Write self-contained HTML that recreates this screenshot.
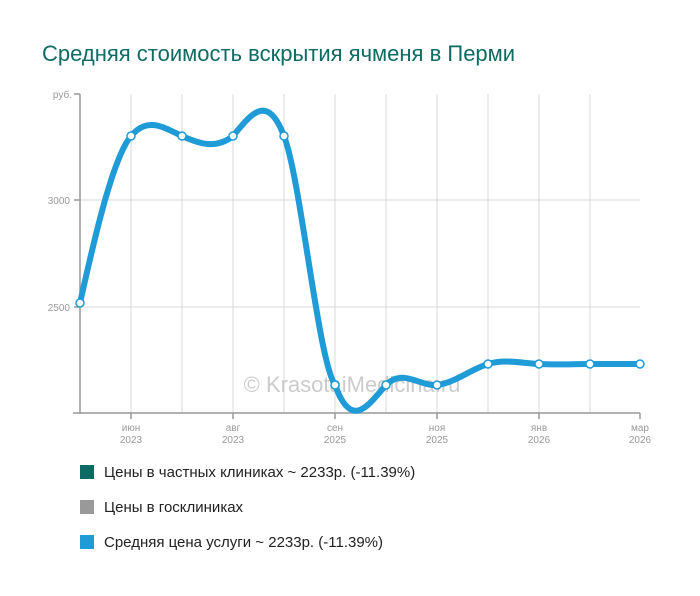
<!DOCTYPE html>
<html><head><meta charset="utf-8"><style>
body{margin:0;background:#fff;width:700px;height:591px;overflow:hidden;font-family:"Liberation Sans",sans-serif}
</style></head><body>
<svg width="700" height="591" xmlns="http://www.w3.org/2000/svg" font-family="Liberation Sans, sans-serif">
<text x="42" y="61" font-size="22" fill="#0e6b63">Средняя стоимость вскрытия ячменя в Перми</text>
<g stroke="#d8d8d8" stroke-width="1">
<line x1="131" y1="94" x2="131" y2="413"/><line x1="182" y1="94" x2="182" y2="413"/><line x1="233" y1="94" x2="233" y2="413"/><line x1="284" y1="94" x2="284" y2="413"/><line x1="335" y1="94" x2="335" y2="413"/><line x1="386" y1="94" x2="386" y2="413"/><line x1="437" y1="94" x2="437" y2="413"/><line x1="488" y1="94" x2="488" y2="413"/><line x1="539" y1="94" x2="539" y2="413"/><line x1="590" y1="94" x2="590" y2="413"/>
<line x1="80" y1="200" x2="640" y2="200"/><line x1="80" y1="307" x2="640" y2="307"/>
</g>
<g stroke="#999" stroke-width="1.5">
<line x1="80" y1="94" x2="80" y2="414"/><line x1="73" y1="413" x2="640" y2="413"/>
<line x1="74" y1="94" x2="80" y2="94"/><line x1="74" y1="200" x2="80" y2="200"/><line x1="74" y1="307" x2="80" y2="307"/>
<line x1="131" y1="413" x2="131" y2="419"/><line x1="233" y1="413" x2="233" y2="419"/><line x1="335" y1="413" x2="335" y2="419"/><line x1="437" y1="413" x2="437" y2="419"/><line x1="539" y1="413" x2="539" y2="419"/><line x1="640" y1="413" x2="640" y2="419"/>
</g>
<g font-size="10" fill="#999" text-anchor="end">
<text x="72" y="98">руб.</text><text x="70" y="204">3000</text><text x="70" y="311">2500</text>
</g>
<g font-size="10" fill="#999" text-anchor="middle">
<text x="131" y="431">июн</text><text x="131" y="443">2023</text>
<text x="233" y="431">авг</text><text x="233" y="443">2023</text>
<text x="335" y="431">сен</text><text x="335" y="443">2025</text>
<text x="437" y="431">ноя</text><text x="437" y="443">2025</text>
<text x="539" y="431">янв</text><text x="539" y="443">2026</text>
<text x="640" y="431">мар</text><text x="640" y="443">2026</text>
</g>
<text x="352" y="392" font-size="22" fill="#ccc" text-anchor="middle">© KrasotaiMedicina.ru</text>
<path fill="none" stroke="#1f9bd7" stroke-width="6" stroke-linejoin="round" d="M80,303 C97,226.5 114,156.4 131,136 C148,115.6 165,128.4 182,136 C199,143.7 216,149.6 233,136 C250,115.6 267,91 284,136 C301,180 318,359.5 335,385 C352,432 369,404 386,385 C403,368 420,386.7 437,385 C454,383.3 471,369.1 488,364 C505,358.9 522,363.2 539,364 C556,364.9 573,364 590,364 C607,364 623,364 640,364"/>
<g fill="#fff" stroke="#1f9bd7" stroke-width="1.5">
<circle cx="80" cy="303" r="4"/><circle cx="131" cy="136" r="4"/><circle cx="182" cy="136" r="4"/><circle cx="233" cy="136" r="4"/><circle cx="284" cy="136" r="4"/><circle cx="335" cy="385" r="4"/><circle cx="386" cy="385" r="4"/><circle cx="437" cy="385" r="4"/><circle cx="488" cy="364" r="4"/><circle cx="539" cy="364" r="4"/><circle cx="590" cy="364" r="4"/><circle cx="640" cy="364" r="4"/>
</g>
<rect x="80" y="465" width="14" height="14" fill="#0e6b63"/>
<text x="104" y="477" font-size="15" fill="#222">Цены в частных клиниках ~ 2233р. (-11.39%)</text>
<rect x="80" y="500" width="14" height="14" fill="#999"/>
<text x="104" y="512" font-size="15" fill="#222">Цены в госклиниках</text>
<rect x="80" y="535" width="14" height="14" fill="#1f9bd7"/>
<text x="104" y="547" font-size="15" fill="#222">Средняя цена услуги ~ 2233р. (-11.39%)</text>
</svg>
</body></html>
